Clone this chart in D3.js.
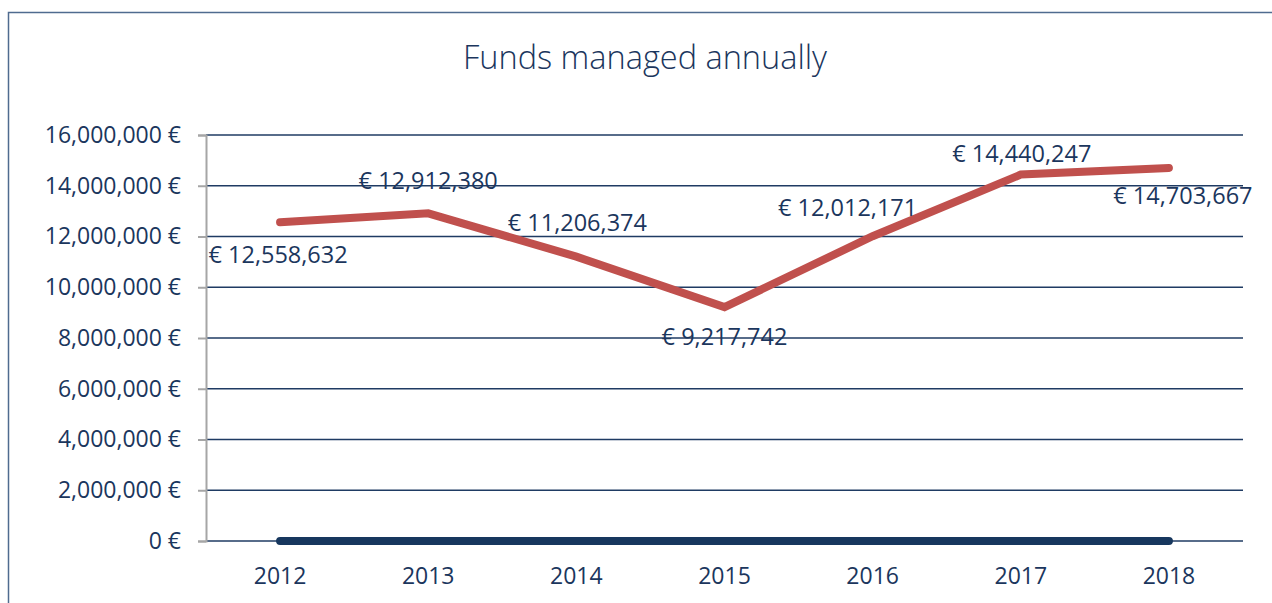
<!DOCTYPE html>
<html>
<head>
<meta charset="utf-8">
<script src="https://cdn.jsdelivr.net/npm/d3@7"></script>
<style>
  body { margin: 0; background: #fff; }
  text { font-family: "Open Sans", "Noto Sans", sans-serif; fill: #1b365d; }
</style>
</head>
<body>
<div class="content"></div>
<script>
var years = ["2012", "2013", "2014", "2015", "2016", "2017", "2018"];
var funds = [12558632, 12912380, 11206374, 9217742, 12012171, 14440247, 14703667];
var baseline = [0, 0, 0, 0, 0, 0, 0];
var yTicks = [0, 2000000, 4000000, 6000000, 8000000, 10000000, 12000000, 14000000, 16000000];
// label offsets from each point (px)
var labelDx = [-2, 0, 1, 0, -25, 1, 14];
var labelDy = [41, -24, -26, 38, -20, -13, 36];

function render() {
var W = 1272, H = 603;
var margin = {top: 135, right: 29, bottom: 62, left: 206},
    width = W - margin.left - margin.right,
    height = H - margin.top - margin.bottom;

var svg = d3.select(".content").append("svg")
    .attr("width", W)
    .attr("height", H);

// outer chart frame
svg.append("rect")
    .attr("x", 8.5).attr("y", 12.5)
    .attr("width", 1290).attr("height", 620)
    .attr("fill", "none")
    .attr("stroke", "#4f6b8f")
    .attr("stroke-width", 1.5);

svg.append("text")
    .attr("x", 645).attr("y", 69)
    .attr("text-anchor", "middle")
    .style("font-size", "32.5px")
    .style("font-weight", 300)
    .text("Funds managed annually");

var g = svg.append("g")
    .attr("transform", "translate(" + margin.left + "," + margin.top + ")");

var x = d3.scaleBand().domain(years).range([0, width]);
var y = d3.scaleLinear().domain([0, 16000000]).range([height, 0]);
var fmt = d3.format(",");

// gridlines
g.selectAll(".grid").data(yTicks).enter().append("line")
    .attr("x1", 0).attr("x2", width)
    .attr("y1", function(d) { return y(d); })
    .attr("y2", function(d) { return y(d); })
    .attr("stroke", "#1f3b63")
    .attr("stroke-width", 1.5);

// y axis
var yAxis = g.append("g")
    .call(d3.axisLeft(y).tickValues(yTicks).tickSize(8).tickPadding(17)
      .tickFormat(function(d) { return fmt(d) + " €"; }));
yAxis.select(".domain").attr("stroke", "#a6a6a6").attr("stroke-width", 2);
yAxis.selectAll(".tick line").attr("stroke", "#a6a6a6").attr("stroke-width", 2);
yAxis.selectAll(".tick text")
    .attr("fill", "#1b365d")
    .style("font-size", "23px")
    .style("font-family", "'Open Sans', sans-serif");

// x axis labels
var xAxis = g.append("g")
    .attr("transform", "translate(0," + height + ")")
    .call(d3.axisBottom(x).tickSize(0).tickPadding(27));
xAxis.select(".domain").remove();
xAxis.selectAll(".tick text")
    .attr("fill", "#1b365d")
    .style("font-size", "23px")
    .style("font-family", "'Open Sans', sans-serif");

var cx = function(i) { return x(years[i]) + x.bandwidth() / 2; };

var line = d3.line()
    .x(function(d, i) { return cx(i); })
    .y(function(d) { return y(d); });

g.append("path")
    .datum(baseline)
    .attr("d", line)
    .attr("fill", "none")
    .attr("stroke", "#17375e")
    .attr("stroke-width", 8)
    .attr("stroke-linecap", "round");

g.append("path")
    .datum(funds)
    .attr("d", line)
    .attr("fill", "none")
    .attr("stroke", "#c0504d")
    .attr("stroke-width", 8)
    .attr("stroke-linecap", "round")
    .attr("stroke-linejoin", "miter");

g.selectAll(".lbl").data(funds).enter().append("text")
    .attr("x", function(d, i) { return cx(i) + labelDx[i]; })
    .attr("y", function(d, i) { return y(d) + labelDy[i]; })
    .attr("text-anchor", "middle")
    .style("font-size", "23.5px")
    .text(function(d) { return "€ " + fmt(d); });
}
render();
</script>
</body>
</html>
